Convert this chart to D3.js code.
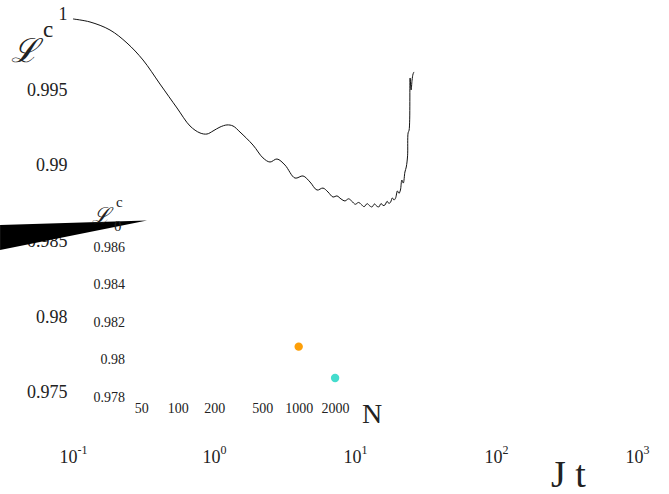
<!DOCTYPE html>
<html>
<head>
<meta charset="utf-8">
<script src="https://cdn.jsdelivr.net/npm/d3@7"></script>
<style>
  html, body { margin: 0; padding: 0; background: #fff; }
  svg { display: block; }
  text { font-family: "Liberation Serif", "Times New Roman", serif; fill: #222; }
</style>
</head>
<body>
<svg id="chart" width="669" height="494"></svg>
<script>
// Fidelity of the evolved state versus dimensionless time J t
const jt = [0.1, 0.132, 0.183, 0.2415, 0.3136, 0.414, 0.5465, 0.676, 0.796, 0.892, 0.984, 1.103, 1.236, 1.364,
  1.529, 1.891, 2.226, 2.496, 2.798, 3.188, 3.754, 4.279, 4.797, 5.378, 5.93, 6.435, 6.98, 7.45, 7.96,
  8.49, 9.0, 9.5, 10.05, 10.6, 11.1, 11.6, 12.2, 12.7, 13.2, 13.75, 14.25, 14.75, 15.3, 15.8, 16.3, 16.9,
  17.4, 17.9, 18.4, 18.9, 19.4, 20.0, 20.5, 21.0, 21.5, 22.0, 22.6, 23.1, 23.6, 23.8, 24.2, 24.6, 25.0, 25.4, 25.8, 26.2];
const fidelity = [0.99964, 0.99944, 0.99891, 0.99805, 0.99693, 0.99534, 0.99376, 0.99257, 0.99211, 0.99204, 0.99224, 0.99250, 0.99264, 0.99257,
  0.99217, 0.99131, 0.99046, 0.99019, 0.99039, 0.98999, 0.98913, 0.98927, 0.98887, 0.98834, 0.98847, 0.98821, 0.98788, 0.98795, 0.98775,
  0.98762, 0.98776, 0.98760, 0.98740, 0.98752, 0.98738, 0.98724, 0.98744, 0.98730, 0.98722, 0.98742, 0.98728, 0.98722, 0.98745, 0.98732, 0.98735, 0.98760,
  0.98745, 0.98755, 0.98782, 0.98768, 0.98781, 0.98828, 0.98812, 0.98834, 0.98900, 0.98880, 0.98953, 0.98986, 0.99060, 0.99211, 0.99230, 0.99574, 0.99495, 0.99560, 0.99600, 0.99614];

// Inset: fidelity at the final time for two system sizes
const sizesN = [1000, 2000];
const sizeFidelity = [0.98066, 0.97899];
const sizeColors = ["#fd9f08", "#44dccd"];

// Tick values
const xTicks = [0.1, 1, 10, 100, 1000];
const xExponents = ["-1", "0", "1", "2", "3"];
const yTicks = [1, 0.995, 0.99, 0.985, 0.98, 0.975];
const yTickLabels = ["1", "0.995", "0.99", "0.985", "0.98", "0.975"];
const insetXTicks = [50, 100, 200, 500, 1000, 2000];
const insetYTicks = [0.986, 0.984, 0.982, 0.98, 0.978];
const insetYTickLabels = ["0.986", "0.984", "0.982", "0.98", "0.978"];

// Dark wedge over the left axis (in J t / fidelity units)
const wedgeT = [0.0304, 0.3348, 0.0304];
const wedgeF = [0.98603, 0.98633, 0.98438];

const svg = d3.select("#chart");

// Main scales
const x = d3.scaleLog().domain([0.1, 1000]).range([73, 637]);
const y = d3.scaleLinear().domain([0.975, 1]).range([392, 13.5]);

// Inset scales
const xi = d3.scaleLog().domain([50, 2000]).range([141.3, 335.1]);
const yi = d3.scaleLinear().domain([0.978, 0.986]).range([396.5, 246.5]);

// Main y axis (labels only)
const yAxis = svg.append("g")
  .attr("transform", "translate(67.5,0)")
  .call(d3.axisLeft(y).tickValues(yTicks).tickSize(0).tickPadding(0)
    .tickFormat((d, i) => yTickLabels[i]));
yAxis.select(".domain").remove();
yAxis.selectAll("text")
  .attr("x", 0).attr("dy", "0.33em")
  .style("font-family", "Liberation Serif, serif")
  .style("font-size", "18px").attr("fill", "#2a2a2a");

// Main x axis with powers of ten
const xAxis = svg.append("g")
  .attr("transform", "translate(0,463)")
  .call(d3.axisBottom(x).tickValues(xTicks).tickSize(0).tickFormat(() => ""));
xAxis.select(".domain").remove();
xAxis.selectAll(".tick text").each(function (d, i) {
  const t = d3.select(this)
    .attr("y", 0).attr("dy", 0)
    .attr("text-anchor", "middle")
    .style("font-family", "Liberation Serif, serif")
    .style("font-size", "18px").attr("fill", "#2a2a2a");
  t.text(null);
  t.append("tspan").text("10");
  t.append("tspan").attr("dy", -9).style("font-size", "12px").text(xExponents[i]);
});

// Curve
const line = d3.line()
  .x(d => x(d[0]))
  .y(d => y(d[1]))
  .curve(d3.curveCatmullRom.alpha(0.5));
svg.append("path")
  .datum(jt.map((t, i) => [t, fidelity[i]]))
  .attr("fill", "none")
  .attr("stroke", "#111")
  .attr("stroke-width", 1)
  .attr("d", line);

// Inset y axis
const iyAxis = svg.append("g")
  .attr("transform", "translate(125,0)")
  .call(d3.axisLeft(yi).tickValues(insetYTicks).tickSize(0).tickPadding(0)
    .tickFormat((d, i) => insetYTickLabels[i]));
iyAxis.select(".domain").remove();
iyAxis.selectAll("text")
  .attr("x", 0).attr("dy", "0.33em")
  .style("font-family", "Liberation Serif, serif")
  .style("font-size", "14px").attr("fill", "#2a2a2a");

// Inset x axis
const ixAxis = svg.append("g")
  .attr("transform", "translate(0,412.5)")
  .call(d3.axisBottom(xi).tickValues(insetXTicks).tickSize(0).tickPadding(0)
    .tickFormat(d3.format("d")));
ixAxis.select(".domain").remove();
ixAxis.selectAll("text")
  .attr("y", 0).attr("dy", 0)
  .style("font-family", "Liberation Serif, serif")
  .style("font-size", "14px").attr("fill", "#2a2a2a");

// Inset points
svg.append("g").selectAll("circle")
  .data(sizesN)
  .join("circle")
  .attr("cx", d => xi(d))
  .attr("cy", (d, i) => yi(sizeFidelity[i]))
  .attr("r", 4.2)
  .attr("fill", (d, i) => sizeColors[i]);

// Wedge
const wedgeLine = d3.line().x(d => x(d[0])).y(d => y(d[1]));
svg.append("path")
  .attr("fill", "#000")
  .attr("d", wedgeLine(wedgeT.map((t, i) => [t, wedgeF[i]])) + "Z");

// Axis titles
const scriptFont = "DejaVu Serif, serif";
svg.append("text").attr("x", 11).attr("y", 62)
  .style("font-family", scriptFont).style("font-style", "italic")
  .style("font-size", "33px").text("ℒ");
svg.append("text").attr("x", 43).attr("y", 37)
  .style("font-size", "23px").text("c");

svg.append("text").attr("x", 92).attr("y", 223)
  .style("font-family", scriptFont).style("font-style", "italic")
  .style("font-size", "22px").text("ℒ");
svg.append("text").attr("x", 116).attr("y", 207)
  .style("font-size", "15px").text("c");
svg.append("text").attr("x", 114).attr("y", 231)
  .style("font-size", "15px").text("0");

svg.append("text").attr("x", 362).attr("y", 423)
  .style("font-size", "28px").text("N");

svg.append("text").attr("x", 551).attr("y", 487)
  .style("font-size", "38px").text("J t");
</script>
</body>
</html>
